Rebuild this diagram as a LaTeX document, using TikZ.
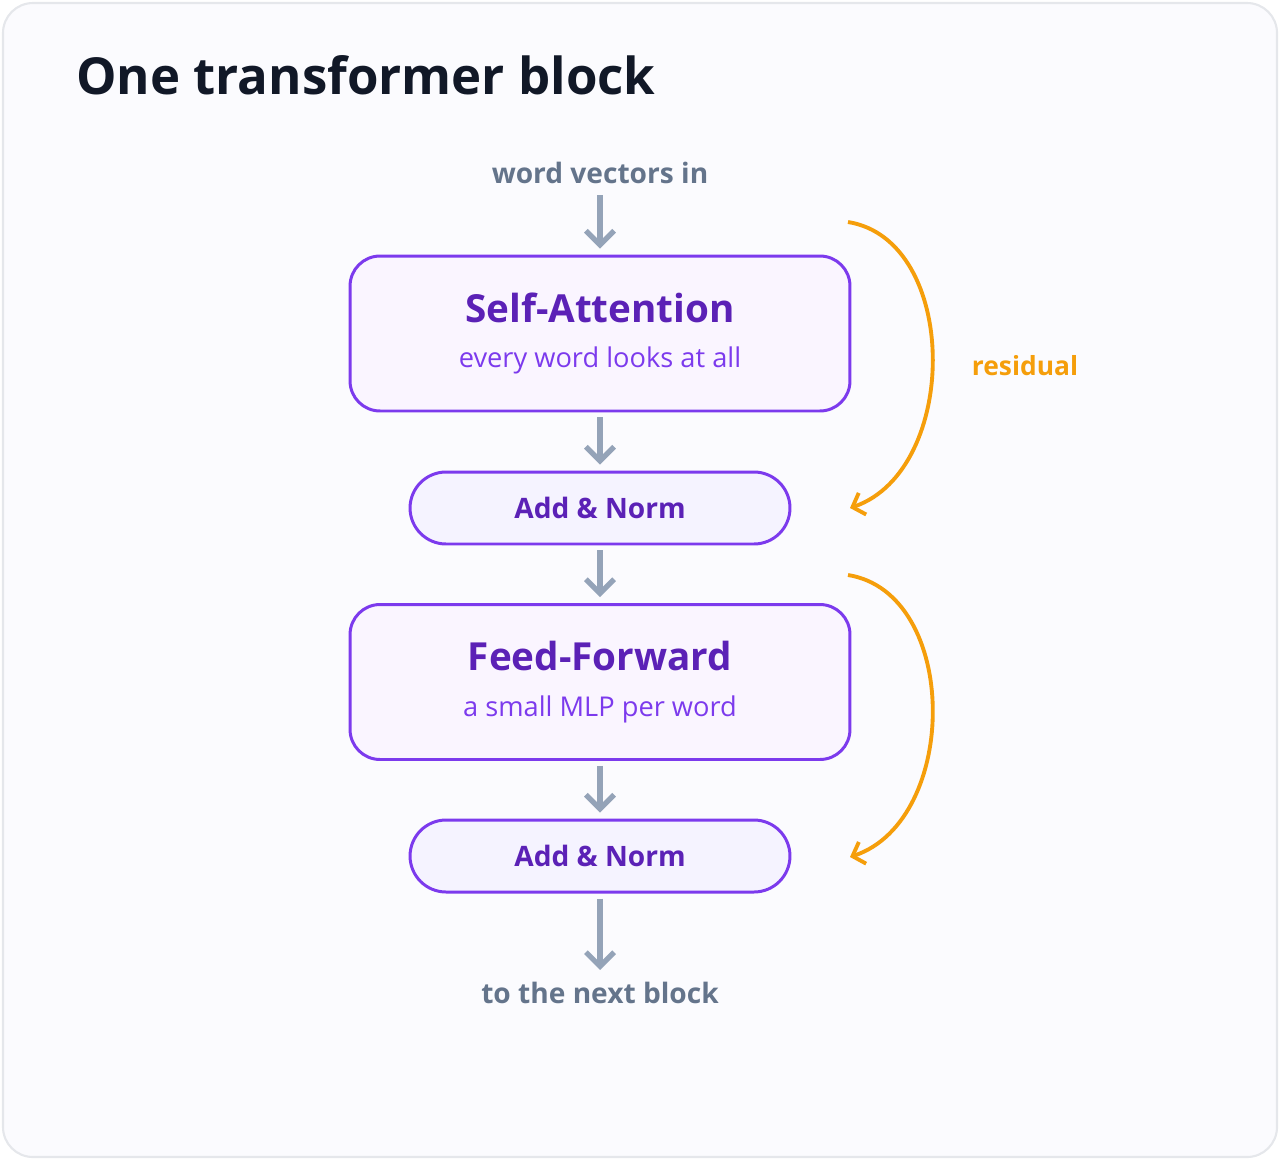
\documentclass[tikz,border=0pt]{standalone}
\usepackage{fontspec}
\setmainfont{Open Sans}
\usetikzlibrary{arrows.meta,positioning}
\definecolor{frameC}{HTML}{E5E7EB}
\definecolor{bgC}{HTML}{FBFBFE}
\definecolor{titleC}{HTML}{111827}
\definecolor{greyT}{HTML}{64748B}
\definecolor{greyA}{HTML}{94A3B8}
\definecolor{violetD}{HTML}{5B21B6}
\definecolor{violetM}{HTML}{7C3AED}
\definecolor{boxF}{HTML}{FAF5FF}
\definecolor{pillF}{HTML}{F5F3FF}
\definecolor{resC}{HTML}{F59E0B}
\tikzset{
  block/.style={draw=violetM, line width=1.7pt, fill=boxF, rounded corners=0.6cm,
    minimum width=10cm, minimum height=3.1cm, align=center},
  pill/.style={draw=violetM, line width=1.7pt, fill=pillF, rounded corners=0.72cm,
    minimum width=7.6cm, minimum height=1.44cm, font=\fontsize{16}{19}\selectfont\bfseries, text=violetD},
  flow/.style={draw=greyA, line width=3pt, shorten <=0.1cm, shorten >=0.12cm,
    -{Straight Barb[length=8pt,width=16pt,line width=3pt]}},
  res/.style={draw=resC, line width=2.2pt, -{Straight Barb[length=6pt,width=13pt,line width=2.2pt]}},
  label/.style={text=greyT, font=\fontsize{16}{19}\selectfont\bfseries}
}
\begin{document}
\begin{tikzpicture}[x=0.02cm,y=-0.02cm]
    \draw[frameC, fill=bgC, line width=1.2pt, rounded corners=0.6cm] (3,3) rectangle (1277,1157);
    \useasboundingbox (0,0) rectangle (1280,1160);
    \node[anchor=west, text=titleC, font=\fontsize{29}{34}\selectfont\bfseries] (title) at (70,75) {One transformer block};

    \node[label] (in) at (600,173) {word vectors in};
    \node[block] (sa) at (600,333.5) {{\fontsize{22}{26}\selectfont\bfseries\color{violetD}Self-Attention}\\[14pt]
      {\fontsize{15.5}{18}\selectfont\color{violetM}every word looks at all}};
    \node[pill] (an1) at (600,508) {Add \& Norm};
    \node[block] (ff) at (600,682) {{\fontsize{22}{26}\selectfont\bfseries\color{violetD}Feed-Forward}\\[14pt]
      {\fontsize{15.5}{18}\selectfont\color{violetM}a small MLP per word}};
    \node[pill] (an2) at (600,856) {Add \& Norm};
    \node[label] (out) at (600,993) {to the next block};

    \draw[flow] (in) -- (sa);
    \draw[flow] (sa) -- (an1);
    \draw[flow] (an1) -- (ff);
    \draw[flow] (ff) -- (an2);
    \draw[flow] (an2) -- (out);

    % residual paths
    \coordinate (r1a) at (848,222);
    \coordinate (r1b) at (850,508);
    \coordinate (r2a) at (848,575);
    \coordinate (r2b) at (850,857);
    \draw[res] (r1a) .. controls (960,240) and (960,470) .. (r1b);
    \draw[res] (r2a) .. controls (960,593) and (960,820) .. (r2b);
    \node[text=resC, font=\fontsize{15}{18}\selectfont\bfseries] (resid) at (1025,366) {residual};
\end{tikzpicture}
\end{document}
